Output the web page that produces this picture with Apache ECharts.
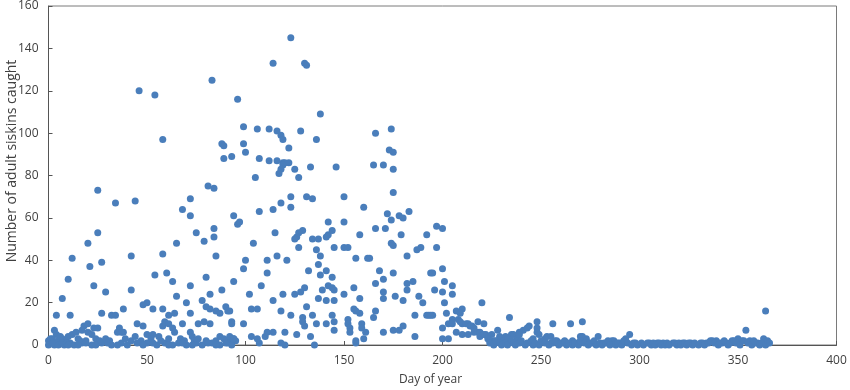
<!DOCTYPE html>
<html>
<head>
<meta charset="utf-8">
<script src="https://cdn.jsdelivr.net/npm/echarts@6/dist/echarts.min.js"></script>
<style>html,body{margin:0;padding:0;background:#fff}#chart{width:850px;height:390px}</style>
</head>
<body>
<div id="chart"></div>
<script>
// Day of year ticks / count ticks
const xTicks = [0, 50, 100, 150, 200, 250, 300, 350, 400];
const yTicks = [0, 20, 40, 60, 80, 100, 120, 140, 160];

// [day of year, number of adult siskins caught]
const earlySeason = [
  [46,120],[54,118],[83,125],[96,116],[58,97],[88,95],[89,94],[89,88],[93,89],
  [25,73],[34,67],[44,68],[81,75],[84,74],[72,69],[68,64],[72,61],[94,61],[96,57],[97,58],
  [25,53],[20,48],[75,53],[79,49],[84,51],[84,55],[65,48],[12,41],[21,37],[27,39],[42,42],[58,43],[85,42],
  [10,31],[23,28],[29,25],[7,22],[42,26],[54,33],[60,34],[63,30],[72,28],[80,32],[82,24],[78,21],[88,26],[94,30],
  [65,23],[70,20],[50,20],[48,19],[53,17],[38,17],[58,17],[61,14],[64,15],[72,15],[80,18],[82,17],[85,16],[87,15],[90,18],[91,16],
  [4,14],[11,14],[27,15],[32,14],[34,14],
  [18,9],[20,10],[23,8],[36,8],[38,6],[45,10],[48,9],[58,9],[59,11],[61,10],[63,8],[64,6],[68,10],[72,6],[76,10],[79,11],[82,10],[93,11],
  [3,7],[4,5],[12,5],[14,6],[17,7],[20,6],[22,5],[25,8],[35,6],[37,6],[50,5],[53,5],[56,4],[73,4],[74,2],[87,4],[92,3],[94,3],
  [1,1],[3,0],[6,1],[8,0],[11,1],[13,0],[17,1],[22,0],[27,1],[32,0],[37,1],[40,0],[50,1],[55,0],[59,1],[63,0],[66,1],[70,0],[75,1],[78,0],[83,1],[87,0],[91,1],
  [0,2],[2,3],[5,2],[7,3],[9,2],[10,4],[15,3],[16,2],[19,2],[24,3],[26,2],[29,3],[31,2],[39,3],[42,2],[44,4],[47,2],[52,3],[57,2],[61,3],[67,3],[69,2],[76,3],[80,2],[85,2],[89,3],[90,1],[95,2],
  [0,0],[1,3],[2,1],[5,0],[6,4],[7,1],[9,1],[10,0],[15,0],[19,1],[24,0],[30,1],[35,0],[45,1],[48,0],[53,1],[61,0],[68,1],[73,0],[81,1],[85,0],[93,0]
];

const peakSeason = [
  [123,145],[114,133],[130,133],[131,132],[138,109],[99,103],[106,102],[112,102],[116,101],[118,99],[119,97],[128,101],[136,97],[122,93],[166,100],[174,102],[173,92],[175,91],
  [99,95],[100,91],[107,88],[112,87],[116,87],[119,86],[120,86],[122,86],[119,85],[118,83],[117,81],[125,83],[133,84],[146,84],[165,85],[170,85],[175,83],[105,79],[127,79],
  [175,72],[123,70],[131,70],[134,69],[150,70],[118,67],[123,65],[114,64],[107,63],[160,65],[172,62],[174,59],[178,61],[180,60],[183,63],[142,58],[150,58],
  [115,53],[129,54],[127,53],[126,51],[125,50],[134,50],[137,50],[142,52],[144,54],[141,51],[158,52],[166,55],[171,55],[179,52],[192,52],
  [104,48],[127,46],[136,45],[138,42],[137,38],[141,35],[145,46],[150,46],[152,46],[174,48],[175,47],[187,45],[189,46],
  [100,40],[99,36],[116,42],[111,40],[121,40],[156,41],[162,41],[163,41],[182,42],[132,35],[111,34],[138,33],[144,32],[168,35],[175,34],[170,31],[166,29],[182,29],[185,30],[182,26],[194,34],
  [108,28],[142,28],[144,27],[145,26],[130,27],[128,25],[125,24],[155,27],[119,24],[139,26],[102,24],[150,24],[170,25],[170,22],[176,23],[180,21],[188,23],[190,20],[114,21],[137,22],[141,21],[145,21],[158,22],
  [131,18],[103,17],[106,17],[92,16],[93,10],[118,16],[155,17],[158,15],[156,16],[165,13],[166,16],[186,14],[192,14],[123,14],[134,14],[129,13],[129,11],[130,9],[144,14],[145,11],[145,7],[152,12],[152,10],[153,8],[153,6],[159,10],[159,8],[161,6],[160,3],[99,10],[136,10],[141,10],[170,6],[175,7],[178,7],[180,9],[186,4],
  [92,4],[94,3],[103,4],[106,3],[107,1],[111,6],[110,4],[114,6],[120,6],[118,1],[120,0],[126,5],[133,4],[135,0],[156,2],[156,1]
];

const lateSeason = [
  [197,56],[200,55],[197,46],[200,36],[195,34],[201,30],[205,28],[196,26],[200,25],[205,24],[201,20],[220,20],
  [193,14],[195,14],[194,14],[202,15],[207,16],[210,17],[209,15],[205,12],[208,12],[210,10],[213,10],[215,9],[218,11],[221,10],
  [200,8],[203,10],[207,6],[210,5],[213,5],[216,6],[218,6],[219,4],[200,3],[203,3],[222,5],[223,4],[225,5],[228,7],
  [234,13],[248,11],[248,8],[248,6],[256,10],[265,10],[271,11],[244,9],[241,7],[239,6],[235,5],[232,4],[229,3],[226,2],
  [253,4],[255,4],[251,2],[270,4],[273,3],[279,4],[287,2],[295,5],[354,7],[364,16],[363,3],[339,2],
  [205,10],[209,11],[212,10],[214,9],[216,8],[219,6],[221,5],[223,3],[224,2],[226,1],
  [229,4],[231,2],[233,3],[236,5],[238,3],[239,5],[243,8],[246,3],[249,5],[252,3],[255,1],[258,2],[261,1],[266,2],[268,1],[271,4],[273,2],[276,1],[282,1],[286,2],[288,1],
  [290,1],[293,3],[297,1],[305,1],[309,1],[312,1],[317,1],[322,1],[326,1],[331,1],[334,1],[337,2],[342,1],[344,1],[347,2],[350,3],[352,2],[356,2],[360,1],[365,1],
  [224,1],[226,0],[227,2],[229,1],[230,0],[232,1],[233,0],[235,2],[236,1],[237,0],[239,1],[240,2],[242,0],[243,1],[245,2],[246,0],[247,1],[249,0],[250,2],[252,1],
  [254,0],[256,1],[257,2],[259,0],[260,1],[262,2],[263,0],[264,1],[266,0],[267,1],[269,0],[270,2],[272,1],[274,0],[275,1],[277,2],[278,0],[280,1],[281,0],[283,1],
  [284,2],[285,0],[288,0],[289,1],[291,0],[292,2],[294,1],[296,0],[298,1],[299,0],[301,1],[302,0],[304,1],[306,0],[307,1],[308,0],[310,1],[311,0],[313,0],[314,1],
  [315,0],[318,1],[319,0],[320,1],[321,0],[323,1],[324,0],[325,1],[327,0],[328,1],[330,0],[332,1],[333,0],[335,1],[336,2],[338,1],[340,0],[341,1],[343,2],[345,0],
  [346,1],[348,2],[349,1],[351,0],[353,2],[355,1],[357,0],[358,2],[359,1],[361,0],[362,1],[364,0],[365,2],[366,1]
];

const chart = echarts.init(document.getElementById('chart'));
const font = 'Open Sans';
chart.setOption({
  animation: false,
  grid: {
    left: 48.5, right: 13.5, top: 6, bottom: 45,
    containLabel: false, outerBoundsMode: 'none',
    show: true, borderColor: '#7a7a7a', borderWidth: 1
  },
  xAxis: {
    type: 'value', min: xTicks[0], max: xTicks[xTicks.length - 1], interval: xTicks[1] - xTicks[0],
    name: 'Day of year', nameLocation: 'middle', nameGap: 29, nameMoveOverlap: false,
    nameTextStyle: { color: '#404040', fontSize: 12, fontFamily: font, padding: [0, 24, 0, 0] },
    axisLine: { lineStyle: { color: '#555', width: 1 } },
    axisTick: { inside: true, length: 4, lineStyle: { color: '#555' } },
    axisLabel: { color: '#404040', fontSize: 12, fontFamily: font, margin: 10 },
    splitLine: { show: false }
  },
  yAxis: {
    type: 'value', min: yTicks[0], max: yTicks[yTicks.length - 1], interval: yTicks[1] - yTicks[0],
    name: 'Number of adult siskins caught', nameLocation: 'middle', nameGap: 29, nameMoveOverlap: false,
    nameTextStyle: { color: '#404040', fontSize: 14, fontFamily: font, padding: [0, 0, 0, 29] },
    axisLine: { show: true, lineStyle: { color: '#555', width: 1 } },
    axisTick: { show: true, inside: true, length: 4, lineStyle: { color: '#555' } },
    axisLabel: { color: '#404040', fontSize: 12, fontFamily: font, margin: 10 },
    splitLine: { show: false }
  },
  series: [earlySeason, peakSeason, lateSeason].map(d => ({
    type: 'scatter', data: d, symbol: 'circle', symbolSize: 7,
    itemStyle: { color: '#4a7ebb', opacity: 1 }
  }))
});
</script>
</body>
</html>
